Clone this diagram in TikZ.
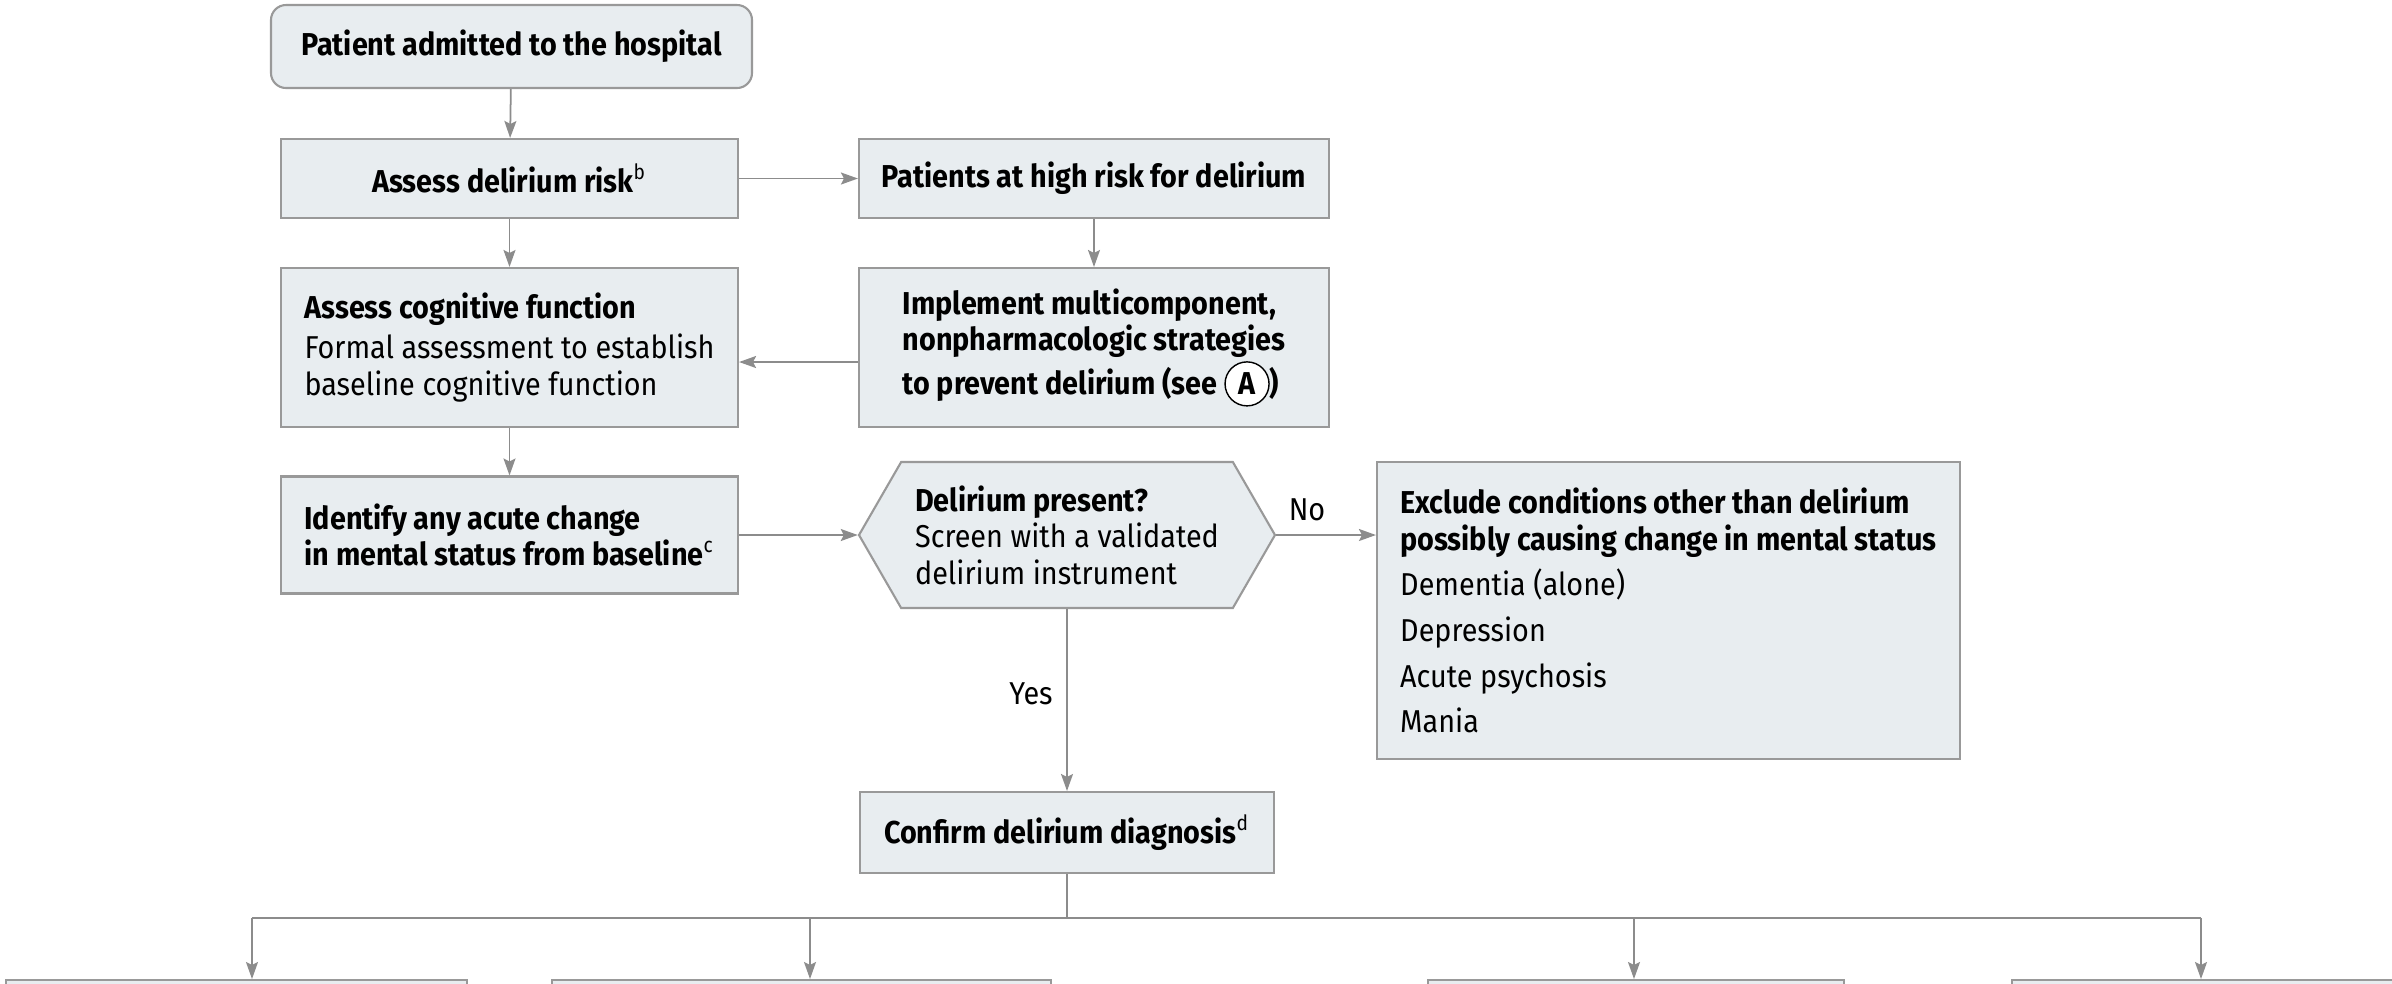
\documentclass[tikz,border=0pt]{standalone}
\usepackage{fontspec}
\setmainfont[FakeStretch=0.91]{Fira Sans}
\usepackage{tikz}
\usetikzlibrary{arrows.meta,shapes.symbols}

\definecolor{boxfill}{HTML}{E8EDF0}
\definecolor{boxline}{HTML}{999999}
\definecolor{arrline}{HTML}{8C8C8C}

\newcommand{\seeA}{\tikz[baseline=(seea.base)]\node[draw,circle,fill=white,inner sep=0pt,minimum size=0.44cm,line width=0.4pt](seea){\textbf{A}};}
\newcommand{\fnmark}[1]{\textsuperscript{\mdseries#1}}

\tikzset{
	box/.style={draw=boxline,fill=boxfill,line width=0.6pt,inner sep=0pt,font=\fontsize{9}{10.4}\selectfont},
	bbox/.style={box,font=\fontsize{9}{10.4}\selectfont\bfseries},
	flow/.style={->,draw=arrline,line width=0.5pt},
	label/.style={font=\fontsize{9}{10.4}\selectfont},
}

\begin{document}
\begin{tikzpicture}[>={Stealth[length=0.17cm,width=0.12cm,inset=0.03cm]}]
	\path[use as bounding box] (0,0) rectangle (23.92,-9.83);
	\clip (0,0) rectangle (23.92,-9.83);%bottom row runs off the page

	\node[bbox,rounded corners=0.15cm,minimum width=4.81cm,minimum height=0.83cm] (admit) at (5.115,-0.465) {Patient admitted to the hospital};
	\node[bbox,minimum width=4.57cm,minimum height=0.79cm] (risk) at (5.095,-1.785) {Assess delirium risk\fnmark{b}};
	\node[bbox,minimum width=4.70cm,minimum height=0.79cm] (high) at (10.94,-1.785) {Patients at high risk for delirium};

	\node[box,minimum width=4.57cm,minimum height=1.59cm,align=left] (cog) at (5.095,-3.475) {\textbf{Assess cognitive function}\\[1pt] Formal assessment to establish\\ baseline cognitive function};
	\node[bbox,minimum width=4.70cm,minimum height=1.59cm,align=left] (prevent) at (10.94,-3.475) {Implement multicomponent,\\ nonpharmacologic strategies\\ to prevent delirium (see \seeA)};

	\node[bbox,minimum width=4.57cm,minimum height=1.17cm,align=left] (acute) at (5.095,-5.35) {Identify any acute change\\ in mental status from baseline\fnmark{c}};
	\node[box,signal,signal to=west and east,signal pointer angle=120,minimum width=4.16cm,minimum height=1.46cm,align=left] (present) at (10.67,-5.35) {\textbf{Delirium present?}\\ Screen with a validated\\ delirium instrument};
	\node[box,minimum width=5.83cm,minimum height=2.97cm,align=left] (exclude) at (16.685,-6.105) {\textbf{Exclude conditions other than delirium}\\ \textbf{possibly causing change in mental status}\\[2.6pt] Dementia (alone)\\[2.6pt] Depression\\[2.6pt] Acute psychosis\\[2.6pt] Mania};

	\node[bbox,minimum width=4.14cm,minimum height=0.81cm] (confirm) at (10.67,-8.325) {Confirm delirium diagnosis\fnmark{d}};

	\node[label] (no) at (13.07,-5.10) {No};
	\node[label] (yes) at (10.31,-6.94) {Yes};

	% next row, only the tops show
	\node[box,anchor=north,minimum width=4.61cm,minimum height=1.5cm] (actA) at (2.365,-9.79) {};
	\node[box,anchor=north,minimum width=4.99cm,minimum height=1.5cm] (actB) at (8.015,-9.79) {};
	\node[box,anchor=north,minimum width=4.16cm,minimum height=1.5cm] (actC) at (16.36,-9.79) {};
	\node[box,anchor=north,minimum width=4.6cm,minimum height=1.5cm] (actD) at (22.42,-9.79) {};

	\coordinate (jA) at (2.52,-9.18);
	\coordinate (jB) at (8.10,-9.18);
	\coordinate (jmid) at (10.67,-9.18);
	\coordinate (jC) at (16.34,-9.18);
	\coordinate (jD) at (22.01,-9.18);

	\draw[flow] (admit) -- (risk);
	\draw[flow] (risk) -- (high);
	\draw[flow] (risk) -- (cog);
	\draw[flow] (high) -- (prevent);
	\draw[flow] ([yshift=-0.145cm]prevent.west) -- ([yshift=-0.145cm]cog.east);
	\draw[flow] (cog) -- (acute);
	\draw[flow] (acute.east) -- (present.west);
	\draw[flow] (present.east) -- (present.east -| exclude.west);
	\draw[flow] (present) -- (confirm);

	\draw[arrline,line width=0.5pt] (confirm.south) -- (jmid);
	\draw[arrline,line width=0.8pt] (jA) -- (jD);
	\foreach \j/\b in {jA/actA,jB/actB,jC/actC,jD/actD}{
		\draw[flow] (\j) -- (\j |- \b.north);
	}
\end{tikzpicture}
\end{document}
